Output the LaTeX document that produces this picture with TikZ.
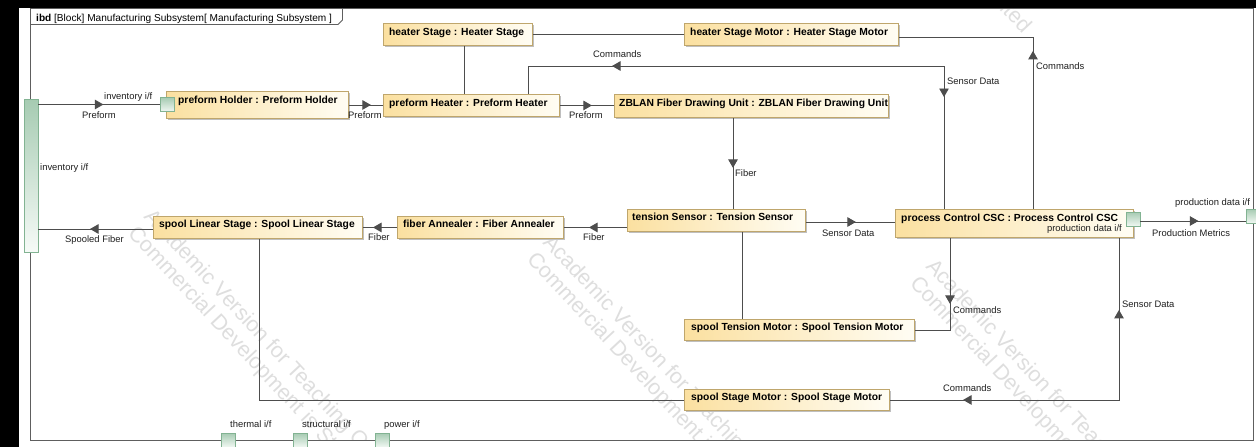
\documentclass[tikz,border=0pt]{standalone}
\usepackage{fontspec}
\setmainfont{Liberation Sans}
\usetikzlibrary{shadows,decorations.markings,arrows.meta,calc}

\definecolor{partleft}{HTML}{FBE0A0}
\definecolor{partright}{HTML}{FFFDF4}
\definecolor{partedge}{HTML}{BFA66C}
\definecolor{portdark}{HTML}{A6CBB2}
\definecolor{portlight}{HTML}{F0F7F2}
\definecolor{portedge}{HTML}{82B392}
\definecolor{wire}{HTML}{4D4D4D}
\definecolor{frameline}{HTML}{5E5E5E}
\definecolor{wmark}{HTML}{DEDEDE}

\tikzset{
  flowtip/.tip={Triangle[length=8.5pt,width=9.5pt]},
  part/.style={draw=partedge, line width=0.9pt, left color=partleft, right color=partright,
    inner sep=0pt, anchor=north west,
    drop shadow={shadow xshift=2pt, shadow yshift=-2pt, fill=black!25, opacity=1}},
  ptitle/.style={inner sep=0pt, anchor=base west, font=\bfseries\fontsize{10.3}{12}\selectfont},
  port/.style={draw=portedge, line width=0.8pt, top color=portdark, bottom color=portlight,
    inner sep=0pt, minimum width=14pt, minimum height=14pt},
  lbl/.style={inner sep=0pt, anchor=base west, text=black!88, font=\fontsize{9.4}{11}\selectfont},
  wire/.style={draw=wire, line width=0.9pt},
  flow/.style={postaction=decorate, decoration={markings, mark=at position #1 with {\arrow{flowtip}}}},
  backflow/.style={postaction=decorate, decoration={markings, mark=at position #1 with {\arrowreversed{flowtip}}}},
  wm/.style={inner sep=0pt, anchor=base west, rotate=-47, text=wmark, font=\fontsize{21.5}{24}\selectfont}
}

\begin{document}
\begin{tikzpicture}[x=1pt, y=-1pt]
\useasboundingbox (0,0) rectangle (1256,447);
\fill[white] (0,0) rectangle (1256,447);

% evaluation watermark, lying under the diagram
\begin{scope}
  \clip (30,8.5) rectangle (1253,440);
  \foreach \wx/\wy [count=\k] in {143/217, 542/243, 925/267, 737/-306} {
    \node[wm] (wa\k) at (\wx,\wy) {Academic Version for Teaching Only};
    \node[wm] (wb\k) at ($(\wx,\wy)+(-16,17)$) {Commercial Development is Strictly Prohibited};
  }
\end{scope}

% outside of the diagram frame
\fill[black] (0,0) rectangle (19,447);
\fill[black] (0,0) rectangle (1256,7.5);

% diagram frame and its name tab
\draw[frameline, line width=1pt] (30,8.5) rectangle (1253,440.5);
\draw[frameline, line width=0.8pt] (30,24.5) -- (338,24.5) -- (342.5,20) -- (342.5,8.5);
\node[inner sep=0pt, anchor=base west, font=\fontsize{10.1}{12}\selectfont] (title) at (36,21)
  {\textbf{ibd} [Block] Manufacturing Subsystem[ Manufacturing Subsystem ]};

% parts
\node[part, minimum width=149pt, minimum height=22pt] (hstage) at (383,23) {};
\node[part, minimum width=214pt, minimum height=22pt] (hmotor) at (684,23) {};
\node[part, minimum width=182pt, minimum height=27pt] (holder) at (166,91) {};
\node[part, minimum width=176pt, minimum height=22pt] (pheater) at (383,94) {};
\node[part, minimum width=274pt, minimum height=23pt] (zblan) at (614,94) {};
\node[part, minimum width=178pt, minimum height=22pt] (tsensor) at (627,209) {};
\node[part, minimum width=166pt, minimum height=22pt] (annealer) at (397,216) {};
\node[part, minimum width=209pt, minimum height=22pt] (slinear) at (153,216) {};
\node[part, minimum width=238pt, minimum height=28pt] (pcsc) at (895,209) {};
\node[part, minimum width=230pt, minimum height=21pt] (stmotor) at (684,319) {};
\node[part, minimum width=205pt, minimum height=21pt] (ssmotor) at (684,389) {};

\node[ptitle] (hstage-t) at ($(hstage.north west)+(6,12.3)$) {heater Stage : Heater Stage};
\node[ptitle] (hmotor-t) at ($(hmotor.north west)+(6,12.3)$) {heater Stage Motor : Heater Stage Motor};
\node[ptitle] (holder-t) at ($(holder.north west)+(12,12)$) {preform Holder : Preform Holder};
\node[ptitle] (pheater-t) at ($(pheater.north west)+(6,12)$) {preform Heater : Preform Heater};
\node[ptitle] (zblan-t) at ($(zblan.north west)+(5,12)$) {ZBLAN Fiber Drawing Unit : ZBLAN Fiber Drawing Unit};
\node[ptitle] (tsensor-t) at ($(tsensor.north west)+(5,11.7)$) {tension Sensor : Tension Sensor};
\node[ptitle] (annealer-t) at ($(annealer.north west)+(6,11)$) {fiber Annealer : Fiber Annealer};
\node[ptitle] (slinear-t) at ($(slinear.north west)+(6,11)$) {spool Linear Stage : Spool Linear Stage};
\node[ptitle] (pcsc-t) at ($(pcsc.north west)+(6,12)$) {process Control CSC : Process Control CSC};
\node[lbl, anchor=base east] (pcsc-p) at ($(pcsc.north west)+(227,22)$) {production data i/f};
\node[ptitle] (stmotor-t) at ($(stmotor.north west)+(7,11)$) {spool Tension Motor : Spool Tension Motor};
\node[ptitle] (ssmotor-t) at ($(ssmotor.north west)+(7,11.5)$) {spool Stage Motor : Spool Stage Motor};

% ports
\node[port, minimum height=153pt, bottom color=portlight!60!white] (invport) at (31,175.5) {};
\node[port] (hport) at (167,104.5) {};
\node[port] (cport) at (1133,219) {};
\node[port] (prodport) at (1253,216) {};
\node[port] (thport) at (228,440) {};
\node[port] (stport) at (300,440) {};
\node[port] (pwport) at (382,440) {};

% connectors
\draw[wire, flow=65pt] (invport.east |- hport.west) -- (hport.west);
\draw[wire, flow=22pt] (holder.east) -- (holder.east -| pheater.west);
\draw[wire] (hstage.south -| 464,0) -- (pheater.north -| 464,0);
\draw[wire] (hstage.east) -- (hmotor.west);
\draw[wire, flow=32pt] (pheater.east) -- (pheater.east -| zblan.west);
\draw[wire, postaction=decorate, decoration={markings,
    mark=at position 112pt with {\arrowreversed{flowtip}},
    mark=at position 475pt with {\arrow{flowtip}}}]
  (pheater.north -| 528,0) |- (944,66) -- (pcsc.north -| 944,0);
\draw[wire, backflow=148pt] (hmotor.east |- 0,37) -| (pcsc.north -| 1033,0);
\draw[wire, flow=50pt] (zblan.south -| 733,0) -- (tsensor.north -| 733,0);
\draw[wire, flow=38pt] (tsensor.west |- annealer.east) -- (annealer.east);
\draw[wire, flow=24pt] (annealer.west) -- (annealer.west -| slinear.east);
\draw[wire, flow=63pt] (slinear.west |- 0,229) -- (invport.east |- 0,229);
\draw[wire, flow=50pt] (tsensor.east |- 0,222) -- (pcsc.west |- 0,222);
\draw[wire] (tsensor.south -| 742,0) -- (stmotor.north -| 742,0);
\draw[wire, flow=66pt] (pcsc.south -| 950,0) |- (stmotor.east);
\draw[wire, postaction=decorate, decoration={markings,
    mark=at position 72pt with {\arrowreversed{flowtip}},
    mark=at position 318pt with {\arrow{flowtip}}}]
  (pcsc.south -| 1119,0) |- (ssmotor.east);
\draw[wire] (slinear.south -| 259,0) |- (ssmotor.west);
\draw[wire, flow=58pt] (cport.east |- 0,221) -- (prodport.west |- 0,221);

% item flow and port labels
\node[lbl] (l-inv1) at (104,99) {inventory i/f};
\node[lbl] (l-pre1) at (82,118) {Preform};
\node[lbl] (l-pre2) at (348,118) {Preform};
\node[lbl] (l-pre3) at (569,118) {Preform};
\node[lbl] (l-cmd1) at (593,57) {Commands};
\node[lbl] (l-sen1) at (947,84) {Sensor Data};
\node[lbl] (l-cmd2) at (1036,69) {Commands};
\node[lbl] (l-inv2) at (40,170) {inventory i/f};
\node[lbl] (l-spf) at (65,242.5) {Spooled Fiber};
\node[lbl] (l-fib1) at (368,240) {Fiber};
\node[lbl] (l-fib2) at (583,240) {Fiber};
\node[lbl] (l-fib3) at (735,176.5) {Fiber};
\node[lbl] (l-sen2) at (822,236) {Sensor Data};
\node[lbl] (l-met) at (1152,236) {Production Metrics};
\node[lbl] (l-prod) at (1175,205) {production data i/f};
\node[lbl] (l-cmd3) at (953,313) {Commands};
\node[lbl] (l-sen3) at (1122,307) {Sensor Data};
\node[lbl] (l-cmd4) at (943,391) {Commands};
\node[lbl] (l-th) at (230,427.5) {thermal i/f};
\node[lbl] (l-st) at (302,427.5) {structural i/f};
\node[lbl] (l-pw) at (384,427.5) {power i/f};
\end{tikzpicture}
\end{document}
